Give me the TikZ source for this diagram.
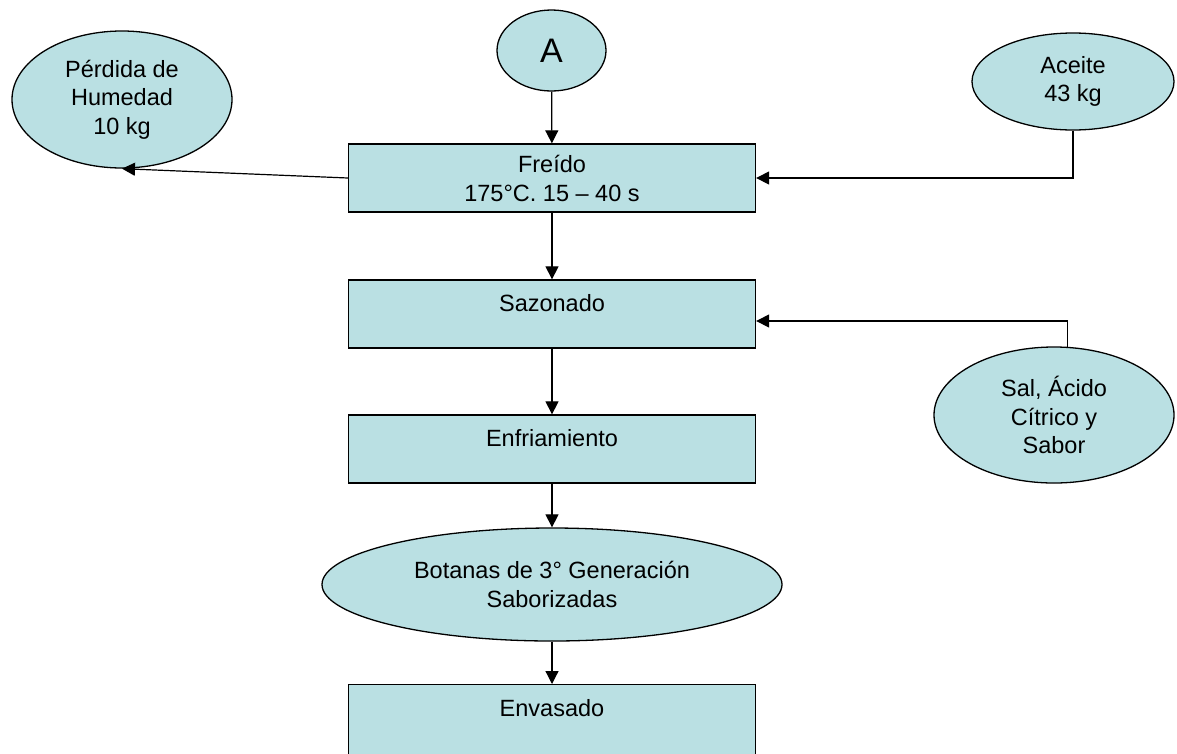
\documentclass[tikz,border=0pt]{standalone}
\usepackage{fontspec}
\setmainfont{Liberation Sans}
\usetikzlibrary{shapes.geometric,arrows.meta,calc}
\definecolor{fillblue}{RGB}{186,224,227}
\tikzset{
  every node/.style={font=\fontsize{23.5}{28.5}\selectfont, text=black},
  procbox/.style={draw=black, line width=1.3pt, fill=fillblue, rectangle,
    minimum width=407pt, inner xsep=2pt, inner ysep=0pt},
  topbox/.style={procbox, text height=31.5pt, text depth=36.5pt},
  oval/.style={draw=black, line width=1.3pt, fill=fillblue, ellipse,
    inner sep=0pt, align=center},
  conn/.style={draw=black, line width=1.2pt},
  arr/.style={conn, -{Triangle[length=13pt,width=13pt]}}
}
\begin{document}
\begin{tikzpicture}[x=1pt, y=-1pt]
\useasboundingbox (0,0) rectangle (1177,753);

% ovals
\node[oval, minimum width=109pt, minimum height=81pt,
  font=\fontsize{34}{40}\selectfont] (A) at (551.5,50.5) {A};
\node[oval, minimum width=220pt, minimum height=137pt] (perd) at (122,99.5)
  {Pérdida de\\Humedad\\10 kg};
\node[oval, minimum width=202pt, minimum height=97pt] (ace) at (1073,81.5)
  {Aceite\\43 kg};
\node[oval, minimum width=240pt, minimum height=136pt] (sal) at (1054,415)
  {Sal, Ácido\\Cítrico y\\Sabor};
\node[oval, minimum width=460pt, minimum height=113pt] (bot) at (552,584.5)
  {Botanas de 3° Generación\\Saborizadas};

% process boxes
\node[procbox, minimum height=68pt, align=center] (fre) at (552,178)
  {Freído\\[-1pt]\raisebox{-1.5pt}{175°C. 15 – 40 s}};
\node[topbox] (saz) at (552,314) {Sazonado};
\node[topbox] (enf) at (552,449) {Enfriamiento};
\node[procbox, text height=32pt, text depth=44pt, anchor=north] (env) at (552,684) {Envasado};

% connectors
\draw[arr] (A) -- (fre);
\draw[arr] (fre) -- (saz);
\draw[arr] (saz) -- (enf);
\draw[arr] (enf) -- (bot);
\draw[arr] (bot) -- (env);
\draw[arr] (fre.west) -- (perd.south);
\draw[arr] (ace.south) |- (fre.east);
\draw[arr] (sal.79) |- ([yshift=-7pt]saz.east);
\end{tikzpicture}
\end{document}
